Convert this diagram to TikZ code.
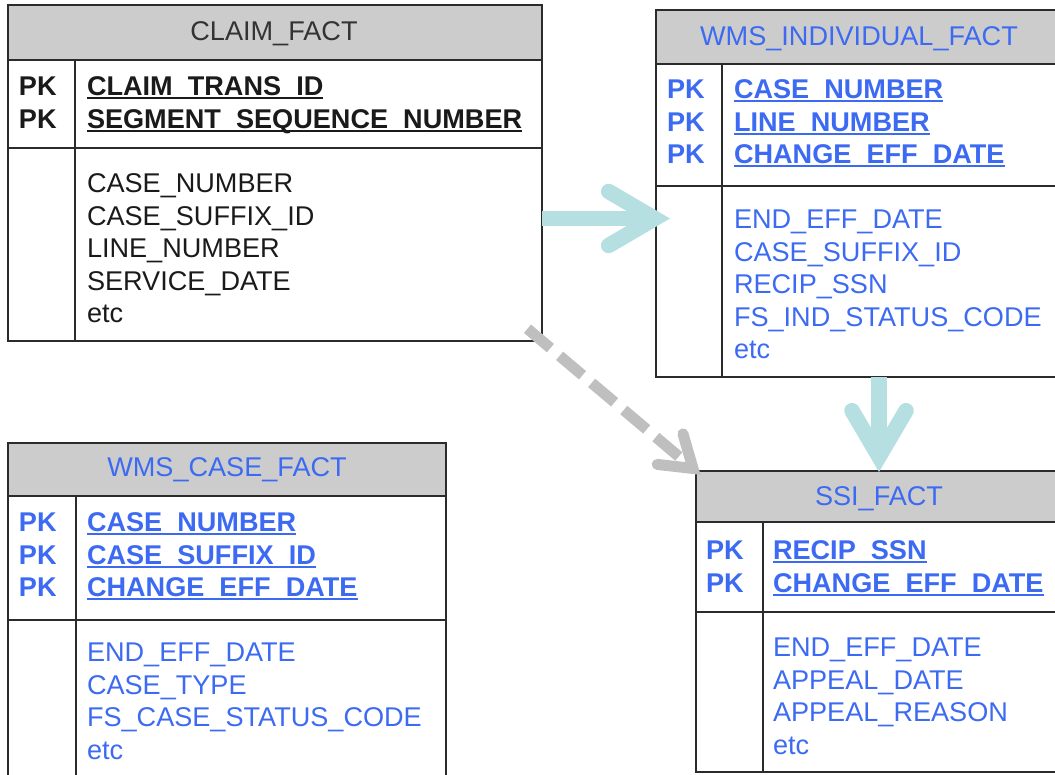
\documentclass[tikz,border=0pt]{standalone}
\usepackage{fontspec}
\setmainfont{Liberation Sans}
\usetikzlibrary{arrows.meta,calc}

\definecolor{frame}{HTML}{2B2B2B}
\definecolor{hdrfill}{HTML}{CCCCCC}
\definecolor{fieldblue}{HTML}{3C6AF2}
\definecolor{fieldblack}{HTML}{1A1A1A}
\definecolor{titlegray}{HTML}{333333}
\definecolor{linkteal}{HTML}{B6DFE1}
\definecolor{linkgray}{HTML}{BFBFBF}

% underlined key column name
\newcommand\keyline[1]{\setbox0\hbox{#1}\rlap{\rule[-3.5pt]{\wd0}{1.8pt}}\box0}

% table frame: name, x left, y top, x right, y bottom, y header bottom, y key bottom, x divider
\newcommand\ertable[8]{%
  \node[tablebox, minimum width={#4-#2}, minimum height={#5-#3}] (#1) at (#2,#3) {};
  \node[headbox, minimum width={#4-#2}, minimum height={#6-#3}] (#1Head) at (#2,#3) {};
  \draw[sep] (#2,#7) -- (#4,#7);
  \draw[sep] (#8,#6) -- (#8,#5);
}
% column of entries: name prefix, x, first baseline, style, entries
\newcommand\fieldlist[5]{%
  \foreach \txt [count=\i] in {#5} {\node[#4] (#1\i) at (#2,{#3+32.5*(\i-1)}) {\txt};}%
}

\tikzset{
  every node/.style={inner sep=0pt, outer sep=0pt},
  tablebox/.style={draw=frame, line width=2pt, anchor=north west, rectangle},
  headbox/.style={tablebox, fill=hdrfill},
  sep/.style={draw=frame, line width=2pt},
  field/.style={anchor=base west, font=\fontsize{27.1}{32}\selectfont},
  pkfield/.style={field, font=\fontsize{27.1}{32}\selectfont\bfseries},
  title/.style={anchor=base, font=\fontsize{27.1}{32}\selectfont},
  teallink/.style={draw=linkteal, line width=15.5pt,
    -{Straight Barb[length=46pt,width=54pt,line cap=round,line join=miter]}},
  graylink/.style={draw=linkgray, line width=11pt, dash pattern=on 30pt off 12pt,
    -{Straight Barb[length=30pt,width=40pt,line cap=round,line join=miter]}},
}

\begin{document}
\begin{tikzpicture}[x=1pt,y=-1pt]
\useasboundingbox (0,0) rectangle (1055,774);
\clip (0,0) rectangle (1055,774);

% CLAIM_FACT
\ertable{claim}{8}{5}{542}{341}{60}{148}{75}
\node[title, text=titlegray] (claimTitle) at (274,40.6) {CLAIM\_FACT};
\fieldlist{claimPK}{19}{95.6}{pkfield, text=fieldblack}{PK,PK}
\fieldlist{claimKey}{87}{95.6}{pkfield, text=fieldblack}{\keyline{CLAIM\_TRANS\_ID},\keyline{SEGMENT\_SEQUENCE\_NUMBER}}
\fieldlist{claimAttr}{87}{192.6}{field, text=fieldblack}{CASE\_NUMBER,CASE\_SUFFIX\_ID,LINE\_NUMBER,SERVICE\_DATE,etc}

% WMS_INDIVIDUAL_FACT
\ertable{ind}{656}{10}{1062}{377}{64}{186}{722}
\node[title, text=fieldblue] (indTitle) at (859,45.6) {WMS\_INDIVIDUAL\_FACT};
\fieldlist{indPK}{667}{98.6}{pkfield, text=fieldblue}{PK,PK,PK}
\fieldlist{indKey}{734}{98.6}{pkfield, text=fieldblue}{\keyline{CASE\_NUMBER},\keyline{LINE\_NUMBER},\keyline{CHANGE\_EFF\_DATE}}
\fieldlist{indAttr}{734}{228.6}{field, text=fieldblue}{END\_EFF\_DATE,CASE\_SUFFIX\_ID,RECIP\_SSN,FS\_IND\_STATUS\_CODE,etc}

% WMS_CASE_FACT
\ertable{case}{8}{443}{446}{790}{496}{620}{76}
\node[title, text=fieldblue] (caseTitle) at (227,476.6) {WMS\_CASE\_FACT};
\fieldlist{casePK}{19}{531.6}{pkfield, text=fieldblue}{PK,PK,PK}
\fieldlist{caseKey}{87}{531.6}{pkfield, text=fieldblue}{\keyline{CASE\_NUMBER},\keyline{CASE\_SUFFIX\_ID},\keyline{CHANGE\_EFF\_DATE}}
\fieldlist{caseAttr}{87}{661.6}{field, text=fieldblue}{END\_EFF\_DATE,CASE\_TYPE,FS\_CASE\_STATUS\_CODE,etc}

% SSI_FACT
\ertable{ssi}{696}{471}{1062}{772}{522}{612}{763}
\node[title, text=fieldblue] (ssiTitle) at (879,505.6) {SSI\_FACT};
\fieldlist{ssiPK}{706}{559.6}{pkfield, text=fieldblue}{PK,PK}
\fieldlist{ssiKey}{773}{559.6}{pkfield, text=fieldblue}{\keyline{RECIP\_SSN},\keyline{CHANGE\_EFF\_DATE}}
\fieldlist{ssiAttr}{773}{656.6}{field, text=fieldblue}{END\_EFF\_DATE,APPEAL\_DATE,APPEAL\_REASON,etc}

% relationships
\coordinate (indIn) at (670,218.5);
\coordinate (claimOut) at (claim.east |- indIn);
\draw[teallink] (claimOut) -- (indIn);
\coordinate (ssiIn) at ($(ssi.north)+(0,1)$);
\draw[teallink] (ssiIn |- ind.south) -- (ssiIn);
\draw[graylink, shorten <=-19pt, shorten >=-6pt] (claim.south east) -- (ssi.north west);
\end{tikzpicture}
\end{document}
